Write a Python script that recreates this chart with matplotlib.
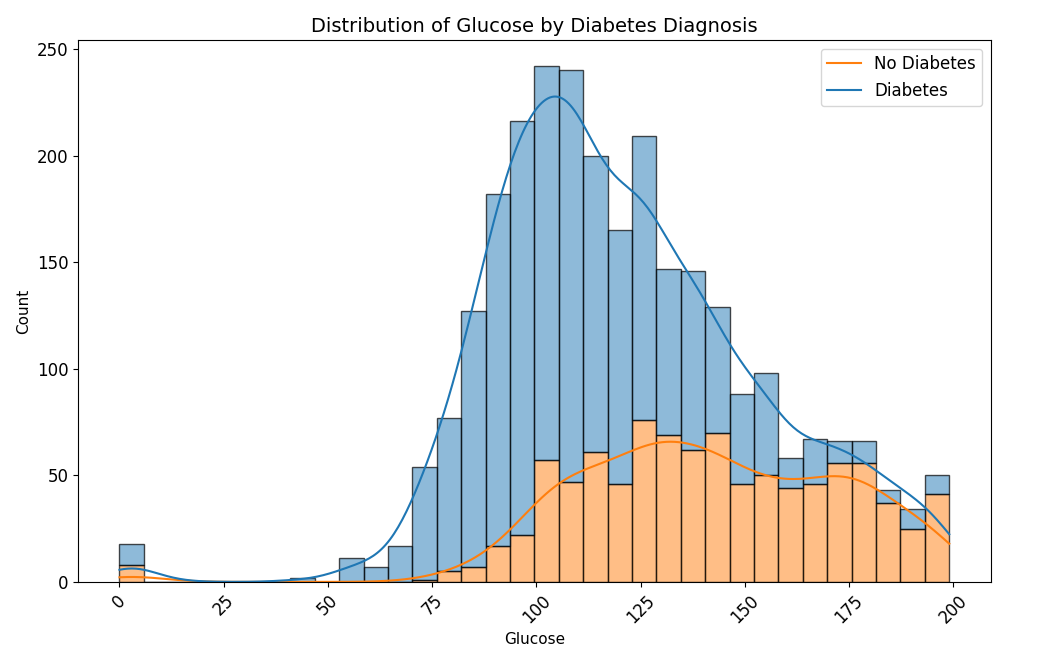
import numpy as np
import matplotlib
matplotlib.use("Agg")
import matplotlib.pyplot as plt
from matplotlib.colors import to_rgba
from matplotlib.lines import Line2D

# glucose range and binning used for the histogram
glucose_min, glucose_max = 0, 199
n_bins = 34

# counts per bin, lower (orange) layer
no_diabetes_counts = [8, 0, 0, 0, 0, 0, 0, 0, 0, 0, 0, 0,
                      1, 5, 7, 17, 22, 57, 47, 61, 46, 76, 69, 62,
                      70, 46, 50, 44, 46, 56, 56, 37, 25, 41]
# counts per bin, upper (blue) layer stacked on top
diabetes_counts = [10, 0, 0, 0, 0, 0, 0, 2, 0, 11, 7, 17,
                   53, 72, 120, 165, 194, 185, 193, 139, 119, 133, 78, 84,
                   59, 42, 48, 14, 21, 10, 10, 6, 9, 9]

legend_labels = ["No Diabetes", "Diabetes"]
blue, orange = "#1f77b4", "#ff7f0e"


def kde_counts(counts, centers, grid, width):
    # gaussian kde (scott bandwidth) scaled to count per bin
    w = np.asarray(counts, dtype=float)
    n = w.sum()
    mean = (centers * w).sum() / n
    std = np.sqrt(((centers - mean) ** 2 * w).sum() / (n - 1))
    bw = std * n ** (-1 / 5)
    z = (grid[None, :] - centers[:, None]) / bw
    dens = (w[:, None] * np.exp(-0.5 * z ** 2)).sum(axis=0) / (n * bw * np.sqrt(2 * np.pi))
    return dens * n * width


edges = np.linspace(glucose_min, glucose_max, n_bins + 1)
width = edges[1] - edges[0]
centers = edges[:-1] + width / 2
grid = np.linspace(glucose_min, glucose_max, 400)

low = np.array(no_diabetes_counts)
high = np.array(diabetes_counts)

fig, ax = plt.subplots(figsize=(10.54, 6.48), dpi=100)
fig.subplots_adjust(left=0.074, right=0.940, top=0.938, bottom=0.102)

edge = (0, 0, 0, 0.7)
ax.bar(edges[:-1], low, width=width, align="edge", facecolor=to_rgba(orange, 0.5),
       edgecolor=edge, linewidth=1)
ax.bar(edges[:-1], high, width=width, align="edge", bottom=low,
       facecolor=to_rgba(blue, 0.5), edgecolor=edge, linewidth=1)

low_curve = kde_counts(low, centers, grid, width)
high_curve = kde_counts(high, centers, grid, width)
ax.plot(grid, low_curve, color=orange, lw=1.5)
ax.plot(grid, low_curve + high_curve, color=blue, lw=1.5)

ax.set_xlim(glucose_min - 0.05 * (glucose_max - glucose_min),
            glucose_max + 0.05 * (glucose_max - glucose_min))
ax.set_ylim(0, (low + high).max() * 1.05)
ax.tick_params(axis="both", labelsize=12)
ax.tick_params(axis="x", labelrotation=45)

ax.set_title("Distribution of Glucose by Diabetes Diagnosis", fontsize=14)
ax.set_xlabel("Glucose", fontsize=11)
ax.set_ylabel("Count", fontsize=11)

handles = [Line2D([], [], color=orange), Line2D([], [], color=blue)]
ax.legend(handles, legend_labels, loc="upper right", fontsize=12)

fig.savefig("out.png", dpi=100)
